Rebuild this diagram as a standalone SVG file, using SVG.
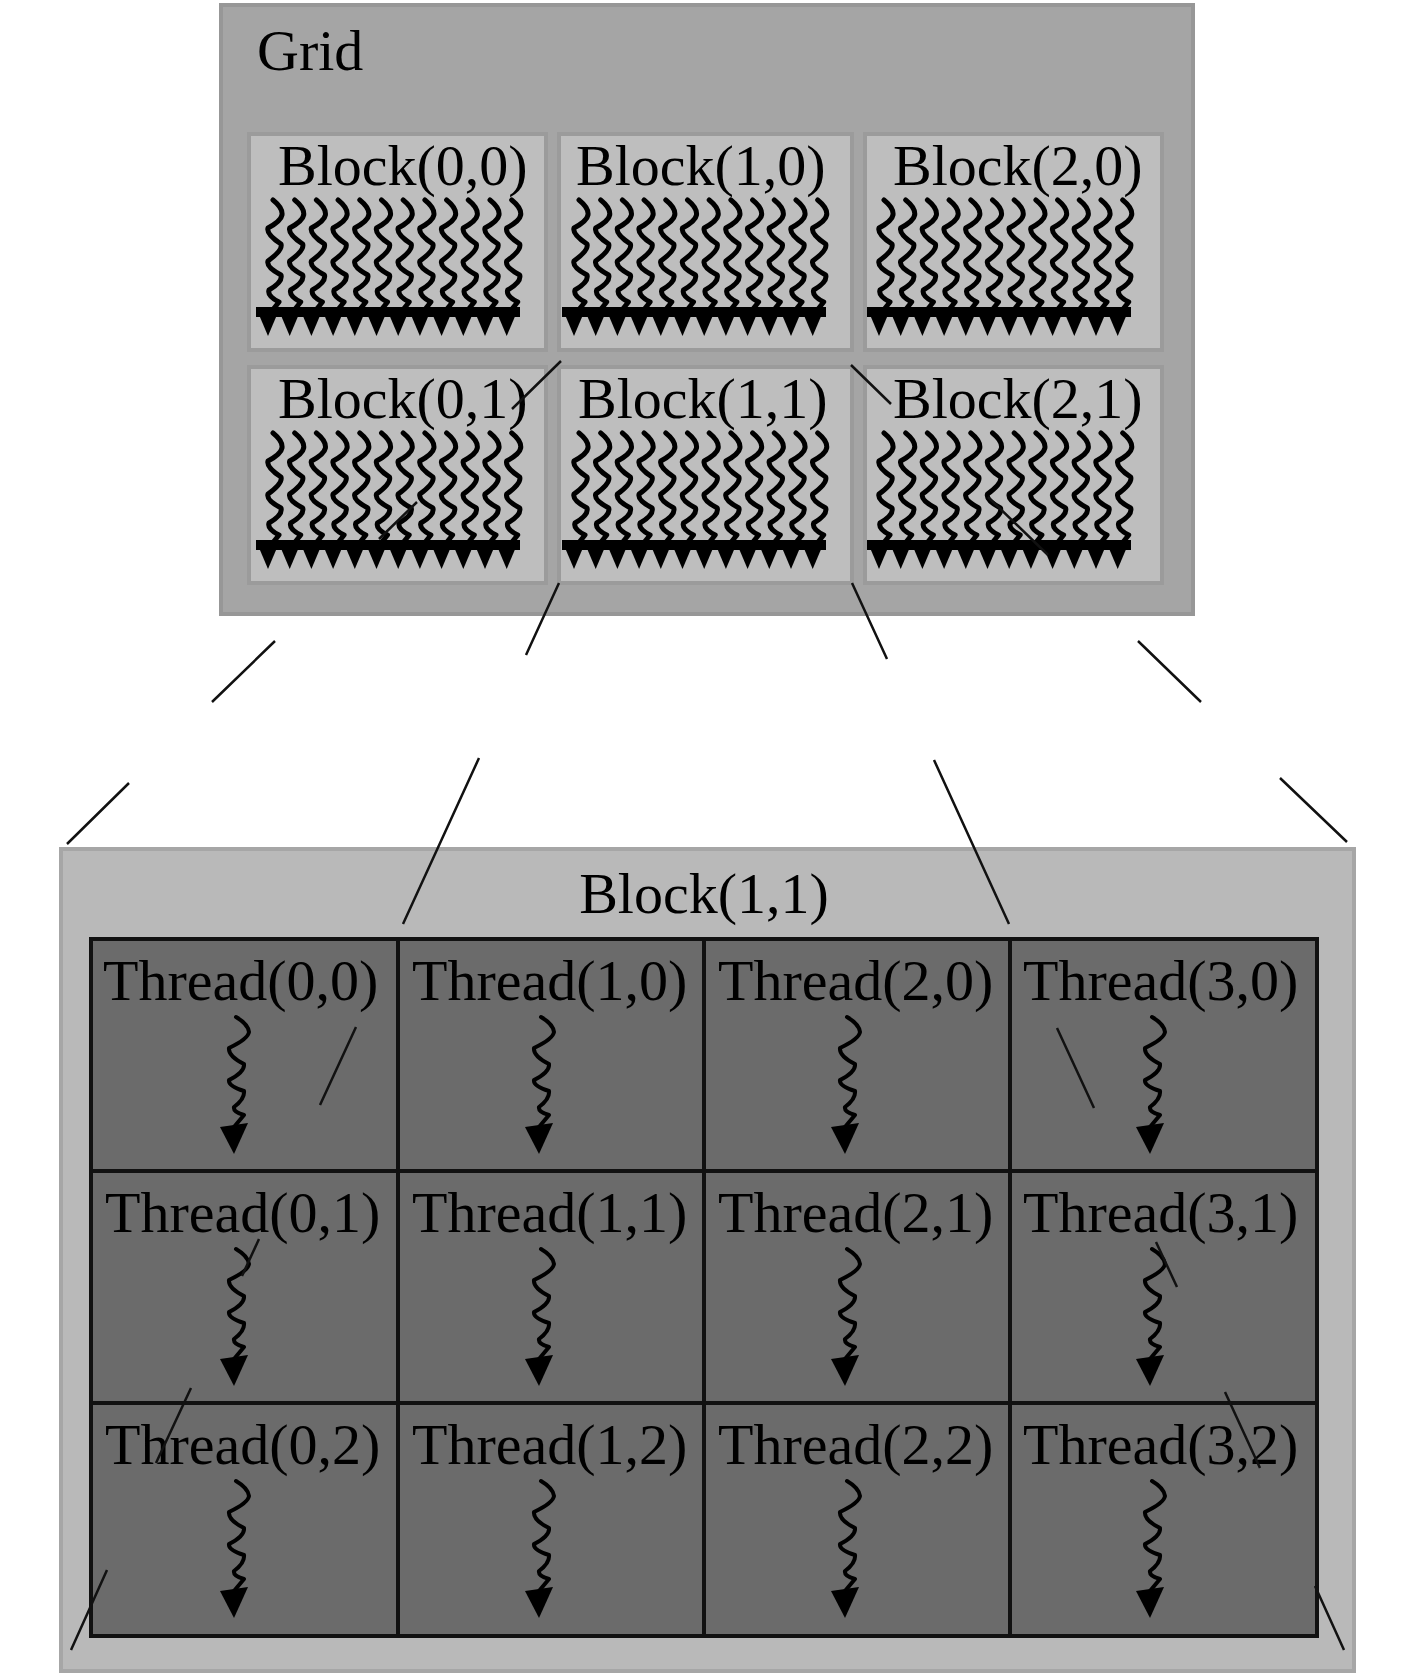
<svg xmlns="http://www.w3.org/2000/svg" xmlns:xlink="http://www.w3.org/1999/xlink" width="1417" height="1677" viewBox="0 0 1417 1677">
<style>
  .lbl { font-family: "Liberation Serif", "Times New Roman", serif; font-size: 58px; fill: #000; }
  .gridbox { fill: #a5a5a5; stroke: #979797; stroke-width: 4; }
  .blk { fill: #bebebe; stroke: #9b9b9b; stroke-width: 4; }
  .bigbox { fill: #b9b9b9; stroke: #a6a6a6; stroke-width: 4; }
  .cells { fill: #6b6b6b; stroke: #111; stroke-width: 4; }
  .div { stroke: #111; stroke-width: 4; fill: none; }
  .wave { fill: none; stroke: #000; stroke-width: 4; stroke-linejoin: round; stroke-linecap: round; }
  .swave { fill: none; stroke: #000; stroke-width: 5; stroke-linejoin: round; stroke-linecap: round; }
  .head { fill: #000; }
  .conn { fill: none; stroke: #111; stroke-width: 2.5; }
</style>
<defs>
  <g id="sthread">
    <path class="swave" d="M-2,0 Q8,8 7,15 Q6,21 -7,28 Q-9,34 6,44 Q8,50 -7,61 Q-9,67 6,75 Q8,82 -6,90 Q-8,96 4,102 L-4,112"/>
    <path class="head" d="M-18,110 L4,110 L-7,136 Z"/>
  </g>
  <g id="threads12">
    <rect class="head" x="-19" y="107" width="264" height="10"/>
    <use xlink:href="#sthread" x="0"/>
    <use xlink:href="#sthread" x="21.7"/>
    <use xlink:href="#sthread" x="43.4"/>
    <use xlink:href="#sthread" x="65.1"/>
    <use xlink:href="#sthread" x="86.8"/>
    <use xlink:href="#sthread" x="108.5"/>
    <use xlink:href="#sthread" x="130.2"/>
    <use xlink:href="#sthread" x="151.9"/>
    <use xlink:href="#sthread" x="173.6"/>
    <use xlink:href="#sthread" x="195.3"/>
    <use xlink:href="#sthread" x="217"/>
    <use xlink:href="#sthread" x="238.7"/>
  </g>
  <g id="bthread">
    <path class="wave" d="M-2,0 Q10,7 11,15 Q10,22 -9,31 Q-10,39 6,47 Q7,55 -9,63 Q-10,69 6,74 Q7,82 -4,90 Q-5,95 6,98 L-4,110"/>
    <path class="head" d="M-18,110 L10,106 L-4,137 Z"/>
  </g>
</defs>

<g id="grid">
  <rect class="gridbox" x="221" y="5" width="972" height="609"/>
  <text class="lbl" x="257" y="70">Grid</text>
</g>

<g id="block-0-0">
  <rect class="blk" x="249" y="134" width="297" height="216"/>
  <text class="lbl" x="278" y="185">Block(0,0)</text>
  <use xlink:href="#threads12" x="275" y="200"/>
</g>
<g id="block-1-0">
  <rect class="blk" x="559" y="134" width="293" height="216"/>
  <text class="lbl" x="576" y="185">Block(1,0)</text>
  <use xlink:href="#threads12" x="581" y="200"/>
</g>
<g id="block-2-0">
  <rect class="blk" x="865" y="134" width="297" height="216"/>
  <text class="lbl" x="893" y="185">Block(2,0)</text>
  <use xlink:href="#threads12" x="886" y="200"/>
</g>
<g id="block-0-1">
  <rect class="blk" x="249" y="367" width="297" height="216"/>
  <text class="lbl" x="278" y="418">Block(0,1)</text>
  <use xlink:href="#threads12" x="275" y="433"/>
</g>
<g id="block-1-1">
  <rect class="blk" x="559" y="367" width="293" height="216"/>
  <text class="lbl" x="578" y="418">Block(1,1)</text>
  <use xlink:href="#threads12" x="581" y="433"/>
</g>
<g id="block-2-1">
  <rect class="blk" x="865" y="367" width="297" height="216"/>
  <text class="lbl" x="893" y="418">Block(2,1)</text>
  <use xlink:href="#threads12" x="886" y="433"/>
</g>

<g id="block-1-1-detail">
  <rect class="bigbox" x="61" y="849" width="1293" height="822"/>
  <text class="lbl" x="704" y="913" text-anchor="middle">Block(1,1)</text>
  <rect class="cells" x="91" y="939" width="1226" height="697"/>
  <path class="div" d="M398,939 V1636 M704,939 V1636 M1010,939 V1636 M91,1171 H1317 M91,1403 H1317"/>
</g>

<g id="thread-0-0"><text class="lbl" x="103" y="1000">Thread(0,0)</text><use xlink:href="#bthread" x="238" y="1017"/></g>
<g id="thread-1-0"><text class="lbl" x="412" y="1000">Thread(1,0)</text><use xlink:href="#bthread" x="543" y="1017"/></g>
<g id="thread-2-0"><text class="lbl" x="718" y="1000">Thread(2,0)</text><use xlink:href="#bthread" x="849" y="1017"/></g>
<g id="thread-3-0"><text class="lbl" x="1023" y="1000">Thread(3,0)</text><use xlink:href="#bthread" x="1154" y="1017"/></g>
<g id="thread-0-1"><text class="lbl" x="105" y="1232">Thread(0,1)</text><use xlink:href="#bthread" x="238" y="1249"/></g>
<g id="thread-1-1"><text class="lbl" x="412" y="1232">Thread(1,1)</text><use xlink:href="#bthread" x="543" y="1249"/></g>
<g id="thread-2-1"><text class="lbl" x="718" y="1232">Thread(2,1)</text><use xlink:href="#bthread" x="849" y="1249"/></g>
<g id="thread-3-1"><text class="lbl" x="1023" y="1232">Thread(3,1)</text><use xlink:href="#bthread" x="1154" y="1249"/></g>
<g id="thread-0-2"><text class="lbl" x="105" y="1464">Thread(0,2)</text><use xlink:href="#bthread" x="238" y="1481"/></g>
<g id="thread-1-2"><text class="lbl" x="412" y="1464">Thread(1,2)</text><use xlink:href="#bthread" x="543" y="1481"/></g>
<g id="thread-2-2"><text class="lbl" x="718" y="1464">Thread(2,2)</text><use xlink:href="#bthread" x="849" y="1481"/></g>
<g id="thread-3-2"><text class="lbl" x="1023" y="1464">Thread(3,2)</text><use xlink:href="#bthread" x="1154" y="1481"/></g>

<g id="connectors">
  <path class="conn" d="M561,361 L512,409 M417,502 L379,539 M275,641 L212,702 M129,783 L67,844"/>
  <path class="conn" d="M851,365 L891,404 M988,497 L1048,555 M1138,641 L1201,702 M1280,778 L1347,842"/>
  <path class="conn" d="M559,583 L526,655 M479,758 L403,924 M356,1027 L320,1105 M259,1239 L242,1276 M191,1388 L156,1463 M107,1570 L71,1650"/>
  <path class="conn" d="M852,583 L887,659 M934,760 L1009,924 M1057,1028 L1094,1108 M1156,1242 L1177,1287 M1225,1392 L1260,1468 M1315,1586 L1344,1650"/>
</g>
</svg>
